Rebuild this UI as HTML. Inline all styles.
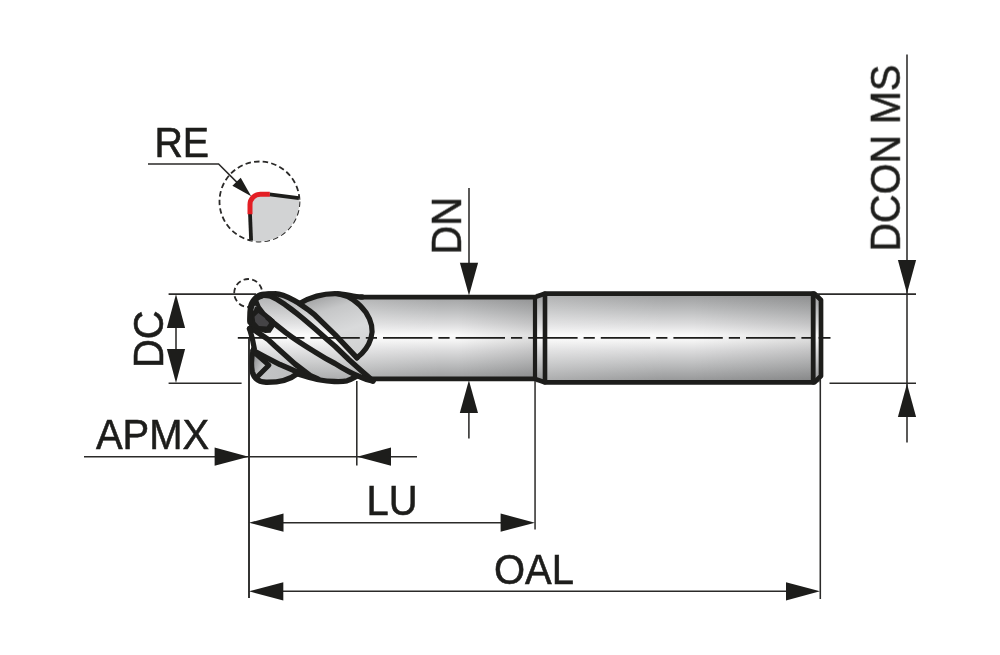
<!DOCTYPE html>
<html>
<head>
<meta charset="utf-8">
<title>End mill dimensions</title>
<style>
html,body{margin:0;padding:0;background:#fff;}
body{width:1000px;height:655px;overflow:hidden;font-family:"Liberation Sans",sans-serif;}
svg{display:block;}
text{font-family:"Liberation Sans",sans-serif;font-size:40px;fill:#1d1d1b;stroke:#1d1d1b;stroke-width:0.55;}
.thin{stroke:#2b2a29;stroke-width:1.55;fill:none;}
.thick{stroke:#1d1d1b;stroke-width:5.4;fill:none;stroke-linejoin:round;stroke-linecap:round;}
.arr{fill:#1d1d1b;stroke:none;}
</style>
</head>
<body>
<svg width="1000" height="655" viewBox="0 0 1000 655">
<defs>
<linearGradient id="gShank" gradientUnits="userSpaceOnUse" x1="0" y1="294" x2="0" y2="382">
<stop offset="0" stop-color="#9c9d9e"/>
<stop offset="0.2" stop-color="#c0c1c2"/>
<stop offset="0.35" stop-color="#dededf"/>
<stop offset="0.47" stop-color="#fafafa"/>
<stop offset="0.53" stop-color="#f4f4f4"/>
<stop offset="0.65" stop-color="#dadadb"/>
<stop offset="0.8" stop-color="#bcbdbe"/>
<stop offset="1" stop-color="#949596"/>
</linearGradient>
<linearGradient id="gTip" gradientUnits="userSpaceOnUse" x1="0" y1="294" x2="0" y2="382">
<stop offset="0" stop-color="#9c9d9e"/>
<stop offset="0.2" stop-color="#c0c1c2"/>
<stop offset="0.35" stop-color="#dededf"/>
<stop offset="0.47" stop-color="#fafafa"/>
<stop offset="0.53" stop-color="#f4f4f4"/>
<stop offset="0.65" stop-color="#dadadb"/>
<stop offset="0.8" stop-color="#bcbdbe"/>
<stop offset="1" stop-color="#949596"/>
</linearGradient>
<linearGradient id="gLobe2" x1="0" y1="0" x2="0.35" y2="1">
<stop offset="0" stop-color="#8f9091"/>
<stop offset="0.35" stop-color="#c6c7c8"/>
<stop offset="0.7" stop-color="#d9dadb"/>
<stop offset="1" stop-color="#d2d3d4"/>
</linearGradient>
<linearGradient id="gLobeB" x1="0" y1="0" x2="1" y2="0.3">
<stop offset="0" stop-color="#77787a"/>
<stop offset="0.35" stop-color="#c4c5c6"/>
<stop offset="1" stop-color="#bdbebf"/>
</linearGradient>
<linearGradient id="gHN" gradientUnits="userSpaceOnUse" x1="362" y1="0" x2="535" y2="0">
<stop offset="0" stop-color="#fff" stop-opacity="0.18"/>
<stop offset="0.45" stop-color="#fff" stop-opacity="0"/>
<stop offset="0.55" stop-color="#000" stop-opacity="0"/>
<stop offset="1" stop-color="#000" stop-opacity="0.11"/>
</linearGradient>
<linearGradient id="gHS" gradientUnits="userSpaceOnUse" x1="545" y1="0" x2="813" y2="0">
<stop offset="0" stop-color="#fff" stop-opacity="0.2"/>
<stop offset="0.45" stop-color="#fff" stop-opacity="0"/>
<stop offset="0.55" stop-color="#000" stop-opacity="0"/>
<stop offset="1" stop-color="#000" stop-opacity="0.11"/>
</linearGradient>
<clipPath id="reClip"><circle cx="259.5" cy="201.5" r="40"/></clipPath>
</defs>
<rect width="1000" height="655" fill="#fff"/>

<!-- SHANK + NECK BODY -->
<g id="body">
<rect x="350" y="297" width="186" height="81.5" fill="url(#gShank)"/>
<rect x="536" y="293.7" width="284" height="88.6" fill="url(#gShank)"/>
<rect x="362" y="297" width="173" height="81.5" fill="url(#gHN)"/>
<rect x="545" y="293.7" width="268" height="88.6" fill="url(#gHS)"/>
</g>

<!-- TIP placeholder -->
<circle cx="248.2" cy="293" r="14" class="thin" stroke-dasharray="5.5 3.2" style="stroke-width:1.8"/>
<g id="tip">
<!-- silhouette fill -->
<path d="M250 325 C249.5 315 250 306 254 301 C258 296 266 293.5 275 293.5 C285 293.5 293 299 300 303 C308 298 320 293.5 335 293.5 C345 293.5 352 296 362 297 V378.6 L373 381 C366 380 360 378 355 376 C349 380 342 381.5 335 381.2 C325 381 312 378 297 373 C291 378 283 381.5 275 381.8 C266 382 258 381.5 254.5 377.5 C252 373 251.2 362 252 355 L254 348 L249.6 328.8 Z" fill="url(#gTip)"/>
<path d="M250 325 C249.5 315 250 306 254 301 C258 296 266 293.5 275 293.5 C285 293.5 293 299 300 303 C308 298 320 293.5 335 293.5 C345 293.5 352 296 362 297 V378.6 L373 381 C366 380 360 378 355 376 C349 380 342 381.5 335 381.2 C325 381 312 378 297 373 C291 378 283 381.5 275 381.8 C266 382 258 381.5 254.5 377.5 C252 373 251.2 362 252 355 L254 348 L249.6 328.8 Z" fill="url(#gHN)"/>
<!-- lobe 2 face -->
<path d="M300 303 C308 298 320 293.5 335 293.5 C350 296 360 304 366 312.5 C371.5 321 373.5 330 371 338 C368.5 346.5 362 354 357 358 Z" fill="url(#gLobe2)"/>
<!-- bottom-left lobe -->
<path d="M253.6 349 C251.4 356 251.2 366 252.2 371.5 C253.8 378.6 258.5 382 266 382.3 C280 382.5 290 379.5 300 372.5 C285 366.5 268 358 253.6 349 Z" fill="url(#gLobeB)"/>
</g>


<!-- body outlines -->
<g id="outl">
<path class="thick" d="M360 297.1 H535 L544.5 293.7 H814.5 L821 300 V376 L814.5 382.3 H544.5 L535 378.9 H370" style="stroke-width:4.7"/>
<path class="thick" d="M535 297 V378.6" style="stroke-width:4.2"/>
<path class="thick" d="M545 293.7 V382.3" style="stroke-width:4.6"/>
<path class="thick" d="M813.2 293.7 V382.3" style="stroke-width:4.8"/>
</g>

<g id="tipoutl">
<!-- black mass top-left -->
<path d="M247.6 321 L247.6 309 C248 304 250 299 255.3 294.6 C258 292.5 261 291.5 264 291.4 L276 291.3 L277.5 301.5 L270 298.3 L264 297.7 L258 299.8 L260.6 306 L265.2 312.1 L274.4 319.8 L275 326 L270.5 332.8 L265.2 333 L250 328.6 Z" fill="#1d1d1b"/>
<path d="M254.5 316.7 L258.3 312.9 L268.2 320.5 L269 323.6 L266.7 326.6 L259 325.9 L255.3 322 Z" fill="#454446"/>
<path d="M253.3 310.5 L254.8 306 L256.3 306.6" stroke="#9d9e9f" stroke-width="1" fill="none"/>
<!-- lobe1 top outline + band 1 -->
<path class="thick" d="M249.9 322 C249.6 313 250.2 305 254.5 300.2 C259 295.5 266 293.7 275 293.7 C281 293.5 287 296.5 294 300.4 L298.8 303.2 L309 310.4 L315 315.2 L335 334.6 L357 357.8"/>
<!-- lobe2 top -->
<path class="thick" d="M299.5 303.5 C308 298.5 320 293.6 335 293.6 C345 293.6 352 296.5 362 297"/>
<!-- lobe2 right curve -->
<path class="thick" d="M338 293.7 C350 296 360 304 366 312.5 C371.5 321 373.5 330 371 338 C368.5 346.5 362 354 357 357.8" style="stroke-width:5.2"/>
<!-- band 2 -->
<path class="thick" d="M264 295.2 L270 295.8 L276 298.8 L285 304.6 L291 309 L297 313.7 L303 318.5 L315 328.8 L326 338.5 L335 346.3 L349 359.7 L360.5 370 L369.7 378 L373 381" style="stroke-width:5.4"/>
<!-- band 3 -->
<path class="thick" d="M268 318 L273.6 322.8 L285.8 332.7 C296 340.5 305 346 315 352 C322 356.5 329 360.5 335 363.5 C342 368 352 373.6 360.5 377 C364 378.7 368 380 373 381"/>
<!-- band 4 -->
<path class="thick" d="M249.5 328.6 L255.3 330.8 L268.2 339.6 L275 346 L295 364 L310 375.5 L318 379"/>
<!-- left lower stroke -->
<path class="thick" d="M249.5 328.8 L252.2 338 L254.3 348.5" style="stroke-width:5.2"/>
<!-- bottom outline -->
<path class="thick" d="M253.6 349 C251.4 356 251.2 366 252.2 371.5 C253.8 378.6 258.5 382 266 382.3 C280 382.5 290 379.5 297 373.8" style="stroke-width:5.4"/>
<path class="thick" d="M297 373.8 C305 376 312 378.7 320 380 C328 381.5 341 382.2 347 380.8 C351 379.6 354 377.6 357 376" style="stroke-width:5.3"/>
<!-- band 5 -->
<path class="thick" d="M253 350.5 L265 356.8 L280 364.6 L295 371 L302 373"/>
<path class="thick" d="M255.6 353.6 L268.8 365.2 L257.8 376.3" style="stroke-width:5"/>
</g>
<!-- centerline -->
<path d="M237.8 337.9 H830.5" stroke="#1d1d1b" stroke-width="1.7" fill="none" stroke-dasharray="49.4 6 11.2 6"/>

<!-- DIM LINES -->
<g id="dims">
<!-- RE -->
<circle cx="259.5" cy="201.5" r="40" class="thin" stroke-dasharray="5.5 3.2" style="stroke-width:1.8"/>
<path class="thin" d="M148 164 H218.6 L238 183.4"/>
<!-- DC -->
<path class="thin" d="M168.6 294.1 H256"/>
<path class="thin" d="M168.6 383.2 H241.6"/>
<path class="thin" d="M176 320 V360"/>
<!-- vertical ext lines -->
<path class="thin" d="M249 338 V598" style="stroke-width:1.9"/>
<path class="thin" d="M356.8 381 V465.4"/>
<path class="thin" d="M535.05 381 V529.6" style="stroke-width:1.5"/>
<path class="thin" d="M820.3 379 V599"/>
<!-- APMX -->
<path class="thin" d="M84 456.7 H417"/>
<!-- LU -->
<path class="thin" d="M270 522.7 H510"/>
<!-- OAL -->
<path class="thin" d="M270 591.3 H800"/>
<!-- DN -->
<path class="thin" d="M469 188 V270"/>
<path class="thin" d="M468.9 400 V438.6"/>
<!-- DCON MS -->
<path class="thin" d="M907 54.4 V442.6"/>
<path class="thin" d="M816.6 294.1 H916"/>
<path class="thin" d="M829.5 383.2 H916"/>
</g>

<!-- ARROWS -->
<g id="arrows" class="arr">
<path d="M251.2 196.2 L232.4 185.7 L240.7 177.7 Z"/>
<path d="M176 294.2 L166.9 328 H185.1 Z"/>
<path d="M176 383 L166.9 349.1 H185.1 Z"/>
<path d="M248.6 456.7 L214.6 447.6 V465.8 Z"/>
<path d="M357.2 456.7 L391 447.6 V465.8 Z"/>
<path d="M249 522.7 L283.5 513.6 V531.8 Z"/>
<path d="M535 522.7 L500.6 513.6 V531.8 Z"/>
<path d="M249 591.3 L283.3 582.2 V600.4 Z"/>
<path d="M820 591.3 L786 582.2 V600.4 Z"/>
<path d="M469 295.4 L459.9 262.8 H478.1 Z"/>
<path d="M468.9 380.2 L459.8 412.9 H478 Z"/>
<path d="M907 293.5 L897.9 260 H916.1 Z"/>
<path d="M907 383.8 L897.9 417 H916.1 Z"/>
</g>

<!-- TEXT -->
<g id="labels" opacity="0.999">
<text id="tRE" transform="translate(154.4 157) scale(0.985 1.045)">RE</text>
<text id="tAPMX" transform="translate(95.9 449.4) scale(1 1.045)">APMX</text>
<text id="tLU" transform="translate(366.4 515) scale(1 1.045)">LU</text>
<text id="tOAL" transform="translate(494 584) scale(1 1.045)">OAL</text>
<text id="tDN" transform="translate(460.6 254.6) rotate(-90) scale(1 1.045)">DN</text>
<text id="tDC" transform="translate(163 368) rotate(-90) scale(1 1.045)">DC</text>
<text id="tDCON" transform="translate(899.5 251.6) rotate(-90) scale(0.99 1.045)">DCON MS</text>
</g>

<!-- RE detail -->
<g id="redetail">
<g clip-path="url(#reClip)">
<path d="M250.2 245 L249.8 204 A10 10 0 0 1 259.8 194 L269.5 194.3 L305 199 V245 Z" fill="#d2d3d4"/>
</g>
<path d="M251.1 240.6 L250 213.5" stroke="#1d1d1b" stroke-width="3.8" fill="none"/>
<path d="M269.5 194.3 L298.9 198.1" stroke="#1d1d1b" stroke-width="3.8" fill="none"/>
<path d="M250 214.2 V204.5 A10.3 10.3 0 0 1 260.3 194.2 L269.8 194.3" stroke="#e31e24" stroke-width="5" fill="none"/>
</g>
</svg>
</body>
</html>
